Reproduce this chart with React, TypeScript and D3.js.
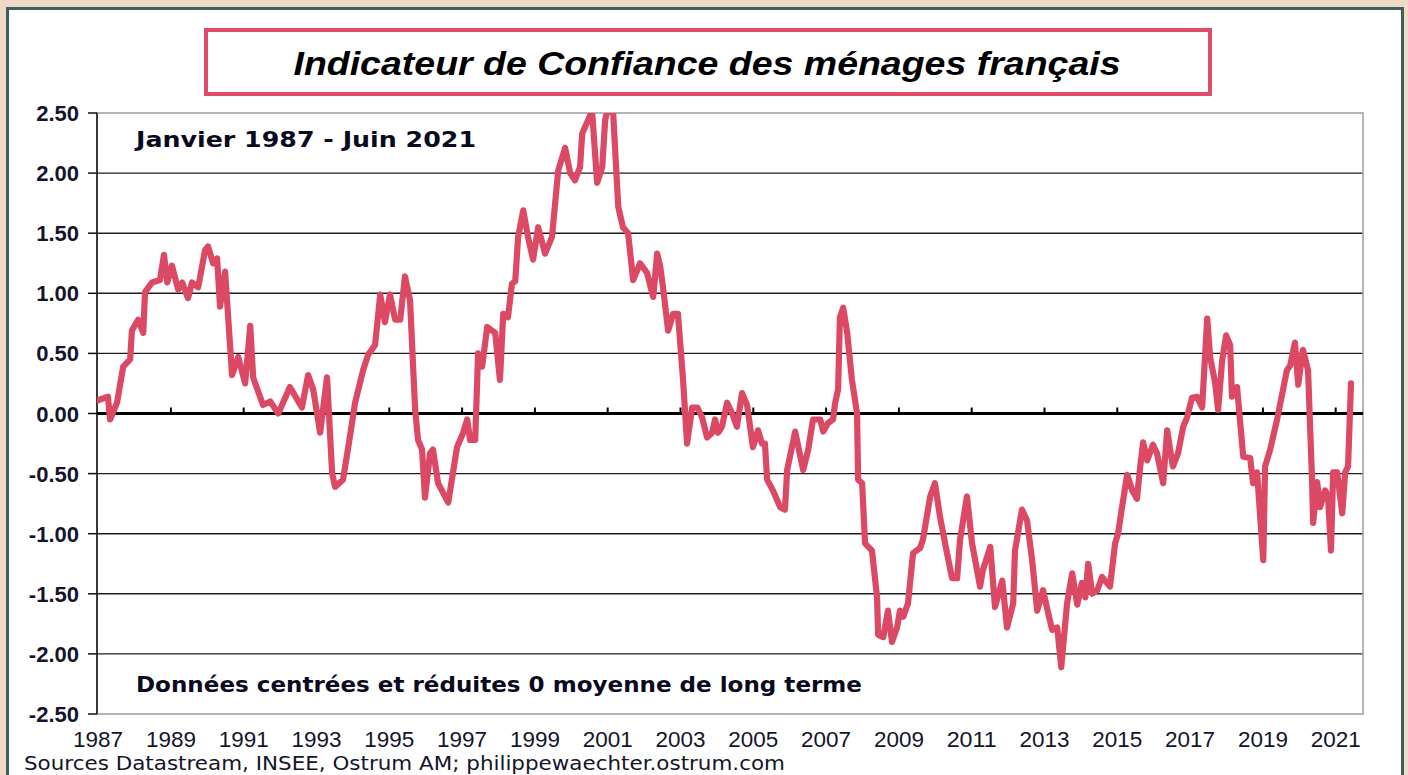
import React from "react";
import * as d3 from "d3";

const TITLE = "Indicateur de Confiance des ménages français";
const PERIOD = "Janvier 1987 - Juin 2021";
const NOTE = "Données centrées et réduites 0 moyenne de long terme";
const SOURCE = "Sources Datastream, INSEE, Ostrum AM;  philippewaechter.ostrum.com";

const yTicks = [2.5, 2.0, 1.5, 1.0, 0.5, 0.0, -0.5, -1.0, -1.5, -2.0, -2.5];
const xLabelYears = [1987, 1989, 1991, 1993, 1995, 1997, 1999, 2001, 2003, 2005, 2007, 2009, 2011, 2013, 2015, 2017, 2019, 2021];

// [decimal year, standardised confidence indicator]
const confidence: [number, number][] = [
  [1987.0, 0.11], [1987.27, 0.14], [1987.33, -0.05], [1987.52, 0.09], [1987.69, 0.39], [1987.88, 0.45],
  [1987.93, 0.69], [1988.1, 0.78], [1988.24, 0.67], [1988.29, 1.01], [1988.48, 1.09], [1988.7, 1.11],
  [1988.81, 1.32], [1988.9, 1.09], [1989.03, 1.23], [1989.2, 1.03], [1989.31, 1.09], [1989.47, 0.96],
  [1989.58, 1.09], [1989.75, 1.05], [1989.94, 1.36], [1990.02, 1.39], [1990.16, 1.25], [1990.27, 1.29],
  [1990.35, 0.89], [1990.49, 1.18], [1990.68, 0.32], [1990.85, 0.47], [1991.04, 0.25], [1991.18, 0.73],
  [1991.26, 0.3], [1991.53, 0.07], [1991.73, 0.1], [1991.95, 0.0], [1992.27, 0.22], [1992.6, 0.05],
  [1992.77, 0.32], [1992.91, 0.2], [1993.1, -0.16], [1993.29, 0.3], [1993.43, -0.5], [1993.51, -0.61],
  [1993.73, -0.55], [1993.92, -0.19], [1994.06, 0.09], [1994.28, 0.36], [1994.42, 0.49], [1994.61, 0.57],
  [1994.75, 0.99], [1994.88, 0.76], [1995.02, 0.99], [1995.16, 0.78], [1995.3, 0.78], [1995.43, 1.14],
  [1995.57, 0.94], [1995.71, 0.03], [1995.79, -0.22], [1995.9, -0.3], [1995.98, -0.7], [1996.12, -0.33],
  [1996.2, -0.3], [1996.34, -0.58], [1996.62, -0.74], [1996.86, -0.28], [1997.03, -0.16], [1997.14, -0.05],
  [1997.22, -0.22], [1997.36, -0.22], [1997.44, 0.5], [1997.55, 0.39], [1997.69, 0.72], [1997.91, 0.67],
  [1998.04, 0.28], [1998.13, 0.83], [1998.26, 0.8], [1998.37, 1.08], [1998.46, 1.1], [1998.54, 1.47],
  [1998.68, 1.69], [1998.81, 1.47], [1998.95, 1.28], [1999.09, 1.55], [1999.28, 1.33], [1999.47, 1.47],
  [1999.64, 2.02], [1999.83, 2.21], [1999.97, 2.0], [2000.1, 1.94], [2000.24, 2.05], [2000.3, 2.33],
  [2000.46, 2.44], [2000.57, 2.52], [2000.71, 1.92], [2000.85, 2.05], [2000.93, 2.44], [2001.01, 2.54],
  [2001.15, 2.5], [2001.29, 1.72], [2001.42, 1.55], [2001.56, 1.5], [2001.7, 1.11], [2001.89, 1.25],
  [2002.08, 1.17], [2002.25, 0.97], [2002.36, 1.33], [2002.44, 1.23], [2002.52, 1.05], [2002.66, 0.69],
  [2002.8, 0.83], [2002.93, 0.83], [2003.07, 0.28], [2003.18, -0.25], [2003.32, 0.05], [2003.46, 0.05],
  [2003.59, -0.03], [2003.73, -0.2], [2003.87, -0.16], [2003.95, -0.05], [2004.03, -0.16], [2004.14, -0.11],
  [2004.28, 0.09], [2004.42, 0.0], [2004.55, -0.11], [2004.69, 0.17], [2004.83, 0.07], [2004.99, -0.28],
  [2005.13, -0.14], [2005.24, -0.25], [2005.32, -0.25], [2005.38, -0.55], [2005.54, -0.64], [2005.74, -0.78],
  [2005.87, -0.8], [2005.93, -0.47], [2006.15, -0.15], [2006.37, -0.47], [2006.51, -0.3], [2006.64, -0.05],
  [2006.84, -0.05], [2006.92, -0.15], [2007.05, -0.08], [2007.19, -0.05], [2007.25, 0.09], [2007.33, 0.2],
  [2007.38, 0.8], [2007.47, 0.88], [2007.58, 0.67], [2007.71, 0.28], [2007.85, 0.0], [2007.88, -0.55],
  [2007.99, -0.58], [2008.07, -1.08], [2008.26, -1.14], [2008.4, -1.53], [2008.43, -1.84], [2008.57, -1.86],
  [2008.7, -1.64], [2008.81, -1.9], [2008.95, -1.78], [2009.03, -1.64], [2009.12, -1.69], [2009.25, -1.58],
  [2009.39, -1.16], [2009.58, -1.12], [2009.66, -1.05], [2009.86, -0.69], [2009.99, -0.58], [2010.13, -0.86],
  [2010.32, -1.16], [2010.46, -1.37], [2010.6, -1.37], [2010.68, -1.05], [2010.87, -0.69], [2011.01, -1.08],
  [2011.23, -1.44], [2011.31, -1.3], [2011.51, -1.11], [2011.64, -1.61], [2011.84, -1.39], [2011.97, -1.78],
  [2012.14, -1.58], [2012.19, -1.14], [2012.38, -0.8], [2012.52, -0.89], [2012.66, -1.22], [2012.8, -1.64],
  [2012.96, -1.47], [2013.1, -1.66], [2013.21, -1.8], [2013.35, -1.78], [2013.46, -2.11], [2013.62, -1.58],
  [2013.76, -1.33], [2013.9, -1.59], [2014.03, -1.41], [2014.12, -1.53], [2014.2, -1.25], [2014.31, -1.5],
  [2014.45, -1.47], [2014.58, -1.36], [2014.8, -1.44], [2014.94, -1.08], [2015.02, -1.0], [2015.13, -0.78],
  [2015.27, -0.51], [2015.41, -0.64], [2015.54, -0.71], [2015.63, -0.44], [2015.71, -0.24], [2015.82, -0.39],
  [2015.98, -0.26], [2016.09, -0.33], [2016.26, -0.58], [2016.37, -0.14], [2016.45, -0.3], [2016.53, -0.44],
  [2016.67, -0.33], [2016.81, -0.11], [2016.92, -0.03], [2017.05, 0.13], [2017.19, 0.14], [2017.33, 0.05],
  [2017.47, 0.79], [2017.55, 0.47], [2017.69, 0.25], [2017.77, 0.03], [2017.88, 0.44], [2017.99, 0.65],
  [2018.1, 0.57], [2018.15, 0.14], [2018.29, 0.22], [2018.46, -0.36], [2018.65, -0.37], [2018.73, -0.58],
  [2018.84, -0.49], [2019.01, -1.22], [2019.06, -0.44], [2019.2, -0.3], [2019.39, -0.05], [2019.66, 0.36],
  [2019.75, 0.4], [2019.88, 0.59], [2019.97, 0.24], [2020.1, 0.53], [2020.24, 0.36], [2020.35, -0.55],
  [2020.38, -0.91], [2020.49, -0.57], [2020.57, -0.78], [2020.71, -0.64], [2020.79, -0.69], [2020.87, -1.14],
  [2020.93, -0.49], [2021.04, -0.49], [2021.18, -0.83], [2021.26, -0.49], [2021.34, -0.44], [2021.42, 0.25],
];

const W = 1408;
const H = 775;
const PL = 97, PR = 1363, PT = 113, PB = 714;

export default function App() {
  const x = d3.scaleLinear().domain([1986.97, 2021.75]).range([PL, PR]);
  const y = d3.scaleLinear().domain([-2.5, 2.5]).range([PB, PT]);
  const line = d3.line<[number, number]>().x((d) => x(d[0])).y((d) => y(d[1])).curve(d3.curveLinear);
  const tickYears = xLabelYears.filter((yr) => yr > 1987);
  const labelColor = "#14142a";

  return (
    <svg width={W} height={H} style={{ position: "absolute", left: 0, top: 0, display: "block" }}
      fontFamily="'Liberation Sans', Arial, sans-serif">
      <defs>
        <clipPath id="plotClip">
          <rect x={PL} y={PT} width={PR - PL} height={PB - PT} />
        </clipPath>
      </defs>
      <rect x={0} y={0} width={W} height={H} fill="#f2d9c7" />
      <rect x={7.5} y={8.5} width={1395} height={H + 20} fill="#ffffff" stroke="#3b625d" strokeWidth={3} />

      {/* title box */}
      <rect x={206} y={30} width={1004} height={64} fill="#ffffff" stroke="#e04c68" strokeWidth={4} />
      <text x={707} y={75} textAnchor="middle" fontSize={33} fontWeight="bold" fontStyle="italic" fill="#000"
        textLength={827} lengthAdjust="spacingAndGlyphs">{TITLE}</text>

      {/* gridlines */}
      {yTicks.filter((v) => v !== 0 && Math.abs(v) !== 2.5).map((v) => (
        <line key={"g" + v} x1={PL} x2={PR} y1={y(v)} y2={y(v)} stroke="#1e1e1e" strokeWidth={1.4} />
      ))}
      {/* frame */}
      <rect x={PL} y={PT} width={PR - PL} height={PB - PT} fill="none" stroke="#a3a3a3" strokeWidth={1.6} />

      {/* y axis */}
      <line x1={PL} x2={PL} y1={PT} y2={PB} stroke="#111" strokeWidth={1.5} />
      {yTicks.map((v) => (
        <g key={"yt" + v}>
          <line x1={PL - 9} x2={PL} y1={y(v)} y2={y(v)} stroke="#111" strokeWidth={1.5} />
          <text x={79} y={y(v) + 8} textAnchor="end" fontSize={22} fontWeight="bold" fill={labelColor}>
            {v.toFixed(2)}
          </text>
        </g>
      ))}

      {/* zero axis with ticks */}
      <line x1={PL} x2={PR} y1={y(0)} y2={y(0)} stroke="#000" strokeWidth={3} />
      {tickYears.map((yr) => (
        <line key={"xt" + yr} x1={x(yr)} x2={x(yr)} y1={y(0)} y2={y(0) - 6} stroke="#000" strokeWidth={2} />
      ))}

      {/* annotations */}
      <text x={136} y={147} fontSize={22} fontWeight="bold" fill="#0a0a1e" fontFamily="'DejaVu Sans', Verdana, sans-serif"
        textLength={340} lengthAdjust="spacingAndGlyphs">{PERIOD}</text>
      <text x={136} y={692} fontSize={22} fontWeight="bold" fill="#0a0a1e" fontFamily="'DejaVu Sans', Verdana, sans-serif"
        textLength={726} lengthAdjust="spacingAndGlyphs">{NOTE}</text>

      {/* data line */}
      <path d={line(confidence) || ""} fill="none" stroke="#dc4964" strokeWidth={6.2}
        strokeLinejoin="round" strokeLinecap="round" clipPath="url(#plotClip)" />

      {/* x labels */}
      {xLabelYears.map((yr) => (
        <text key={"xl" + yr} x={x(yr)} y={747} textAnchor="middle" fontSize={21.5} fill={labelColor}
          textLength={50} lengthAdjust="spacingAndGlyphs">
          {yr}
        </text>
      ))}

      <text x={24} y={770} fontSize={19} fill={labelColor} fontFamily="'DejaVu Sans', Tahoma, sans-serif"
        textLength={761} lengthAdjust="spacingAndGlyphs">{SOURCE}</text>
    </svg>
  );
}
